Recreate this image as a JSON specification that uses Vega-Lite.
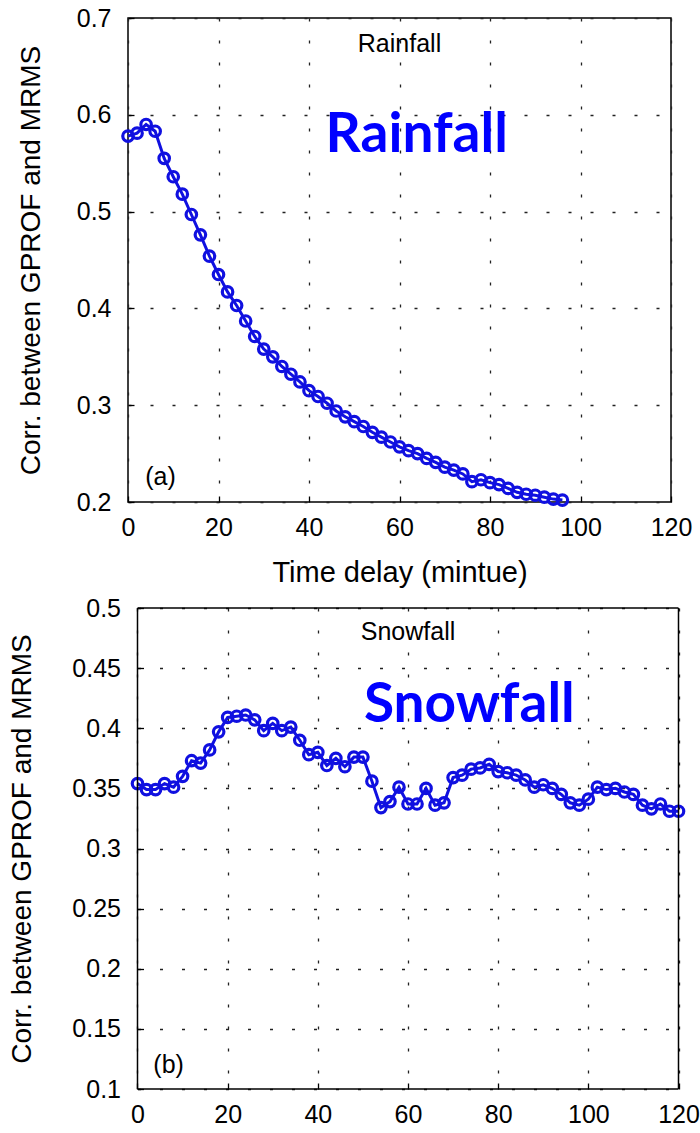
{
  "$schema": "https://vega.github.io/schema/vega-lite/v6.json",
  "background": "white",
  "padding": {"left": 8, "top": 5, "right": 5, "bottom": 5},
  "spacing": 8,
  "config": {
    "font": "Liberation Sans",
    "view": {"stroke": "black", "strokeWidth": 1.5},
    "axis": {
      "grid": true, "gridColor": "#222222", "gridDash": [3, 19], "gridWidth": 1.3,
      "domain": false, "ticks": true, "tickSize": -6, "tickColor": "black", "tickWidth": 1.3, "labelFlush": false,
      "labelFont": "Liberation Sans", "labelFontSize": 25, "labelColor": "black",
      "titleFont": "Liberation Sans", "titleFontWeight": "normal", "titleColor": "black"
    }
  },
  "datasets": {
    "rain": [
      {"minute": 0, "corr": 0.578}, {"minute": 2, "corr": 0.581}, {"minute": 4, "corr": 0.590}, {"minute": 6, "corr": 0.583},
      {"minute": 8, "corr": 0.555}, {"minute": 10, "corr": 0.536}, {"minute": 12, "corr": 0.518}, {"minute": 14, "corr": 0.497},
      {"minute": 16, "corr": 0.476}, {"minute": 18, "corr": 0.454}, {"minute": 20, "corr": 0.435}, {"minute": 22, "corr": 0.417},
      {"minute": 24, "corr": 0.403}, {"minute": 26, "corr": 0.387}, {"minute": 28, "corr": 0.371}, {"minute": 30, "corr": 0.358},
      {"minute": 32, "corr": 0.350}, {"minute": 34, "corr": 0.340}, {"minute": 36, "corr": 0.332}, {"minute": 38, "corr": 0.324},
      {"minute": 40, "corr": 0.315}, {"minute": 42, "corr": 0.309}, {"minute": 44, "corr": 0.302}, {"minute": 46, "corr": 0.294},
      {"minute": 48, "corr": 0.288}, {"minute": 50, "corr": 0.283}, {"minute": 52, "corr": 0.278}, {"minute": 54, "corr": 0.272},
      {"minute": 56, "corr": 0.267}, {"minute": 58, "corr": 0.262}, {"minute": 60, "corr": 0.257}, {"minute": 62, "corr": 0.253},
      {"minute": 64, "corr": 0.250}, {"minute": 66, "corr": 0.245}, {"minute": 68, "corr": 0.241}, {"minute": 70, "corr": 0.236},
      {"minute": 72, "corr": 0.233}, {"minute": 74, "corr": 0.229}, {"minute": 76, "corr": 0.221}, {"minute": 78, "corr": 0.223},
      {"minute": 80, "corr": 0.220}, {"minute": 82, "corr": 0.218}, {"minute": 84, "corr": 0.214}, {"minute": 86, "corr": 0.210},
      {"minute": 88, "corr": 0.208}, {"minute": 90, "corr": 0.207}, {"minute": 92, "corr": 0.205}, {"minute": 94, "corr": 0.203},
      {"minute": 96, "corr": 0.202}
    ],
    "snow": [
      {"minute": 0, "corr": 0.354}, {"minute": 2, "corr": 0.349}, {"minute": 4, "corr": 0.349}, {"minute": 6, "corr": 0.354},
      {"minute": 8, "corr": 0.351}, {"minute": 10, "corr": 0.360}, {"minute": 12, "corr": 0.373}, {"minute": 14, "corr": 0.371},
      {"minute": 16, "corr": 0.382}, {"minute": 18, "corr": 0.397}, {"minute": 20, "corr": 0.409}, {"minute": 22, "corr": 0.410},
      {"minute": 24, "corr": 0.411}, {"minute": 26, "corr": 0.407}, {"minute": 28, "corr": 0.398}, {"minute": 30, "corr": 0.404},
      {"minute": 32, "corr": 0.398}, {"minute": 34, "corr": 0.401}, {"minute": 36, "corr": 0.390}, {"minute": 38, "corr": 0.378},
      {"minute": 40, "corr": 0.380}, {"minute": 42, "corr": 0.369}, {"minute": 44, "corr": 0.375}, {"minute": 46, "corr": 0.368},
      {"minute": 48, "corr": 0.376}, {"minute": 50, "corr": 0.376}, {"minute": 52, "corr": 0.356}, {"minute": 54, "corr": 0.334},
      {"minute": 56, "corr": 0.339}, {"minute": 58, "corr": 0.351}, {"minute": 60, "corr": 0.337}, {"minute": 62, "corr": 0.337},
      {"minute": 64, "corr": 0.350}, {"minute": 66, "corr": 0.336}, {"minute": 68, "corr": 0.338}, {"minute": 70, "corr": 0.359},
      {"minute": 72, "corr": 0.361}, {"minute": 74, "corr": 0.366}, {"minute": 76, "corr": 0.367}, {"minute": 78, "corr": 0.370},
      {"minute": 80, "corr": 0.364}, {"minute": 82, "corr": 0.363}, {"minute": 84, "corr": 0.361}, {"minute": 86, "corr": 0.357},
      {"minute": 88, "corr": 0.351}, {"minute": 90, "corr": 0.353}, {"minute": 92, "corr": 0.350}, {"minute": 94, "corr": 0.345},
      {"minute": 96, "corr": 0.338}, {"minute": 98, "corr": 0.336}, {"minute": 100, "corr": 0.341}, {"minute": 102, "corr": 0.351},
      {"minute": 104, "corr": 0.349}, {"minute": 106, "corr": 0.350}, {"minute": 108, "corr": 0.347}, {"minute": 110, "corr": 0.345},
      {"minute": 112, "corr": 0.336}, {"minute": 114, "corr": 0.333}, {"minute": 116, "corr": 0.337}, {"minute": 118, "corr": 0.331},
      {"minute": 120, "corr": 0.331}
    ]
  },
  "vconcat": [
    {
      "width": 543,
      "height": 484,
      "layer": [
        {
          "data": {"name": "rain"},
          "mark": {"type": "line", "color": "#1010e0", "strokeWidth": 3},
          "encoding": {
            "x": {"field": "minute", "type": "quantitative", "scale": {"domain": [0, 120], "nice": false},
              "axis": {"values": [0, 20, 40, 60, 80, 100, 120], "title": "Time delay (mintue)", "titleFontSize": 29, "labelPadding": 19, "titlePadding": 18}},
            "y": {"field": "corr", "type": "quantitative", "scale": {"domain": [0.2, 0.7], "nice": false, "zero": false},
              "axis": {"values": [0.2, 0.3, 0.4, 0.5, 0.6, 0.7], "format": ".1f", "title": "Corr. between GPROF and MRMS", "titleFontSize": 28, "labelPadding": 23, "titlePadding": 31}}
          }
        },
        {
          "data": {"name": "rain"},
          "mark": {"type": "point", "filled": false, "color": "#1010e0", "strokeWidth": 3.2, "size": 110, "opacity": 1},
          "encoding": {
            "x": {"field": "minute", "type": "quantitative"},
            "y": {"field": "corr", "type": "quantitative"}
          }
        },
        {
          "data": {"values": [{}]},
          "mark": {"type": "text", "text": "Rainfall", "font": "Liberation Sans", "fontSize": 25, "color": "black", "align": "center", "baseline": "alphabetic"},
          "encoding": {"x": {"datum": 60}, "y": {"datum": 0.665}}
        },
        {
          "data": {"values": [{}]},
          "mark": {"type": "text", "text": "Rainfall", "font": "Lato", "fontWeight": "bold", "fontSize": 55, "color": "#0000ff", "align": "center", "baseline": "alphabetic"},
          "encoding": {"x": {"datum": 63.8}, "y": {"datum": 0.5616}}
        },
        {
          "data": {"values": [{}]},
          "mark": {"type": "text", "text": "(a)", "font": "Liberation Sans", "fontSize": 25, "color": "black", "align": "center", "baseline": "alphabetic"},
          "encoding": {"x": {"datum": 7.2}, "y": {"datum": 0.218}}
        }
      ]
    },
    {
      "width": 550.5,
      "height": 481,
      "view": {"stroke": null},
      "layer": [
        {
          "data": {"name": "snow"},
          "mark": {"type": "line", "color": "#1010e0", "strokeWidth": 3},
          "encoding": {
            "x": {"field": "minute", "type": "quantitative", "scale": {"domain": [-2.107, 120], "nice": false, "zero": false},
              "axis": {"values": [0, 20, 40, 60, 80, 100, 120], "title": null, "labelPadding": 19}},
            "y": {"field": "corr", "type": "quantitative", "scale": {"domain": [0.1, 0.5], "nice": false, "zero": false},
              "axis": {"values": [0.1, 0.15, 0.2, 0.25, 0.3, 0.35, 0.4, 0.45, 0.5], "format": ".2~f", "title": "Corr. between GPROF and MRMS", "titleFontSize": 28, "offset": -9.5, "labelPadding": 23, "titlePadding": 35, "gridDashOffset": 12.5}}
          }
        },
        {
          "data": {"name": "snow"},
          "mark": {"type": "point", "filled": false, "color": "#1010e0", "strokeWidth": 3.2, "size": 110, "opacity": 1},
          "encoding": {
            "x": {"field": "minute", "type": "quantitative"},
            "y": {"field": "corr", "type": "quantitative"}
          }
        },
        {
          "data": {"values": [{}]},
          "mark": {"type": "rule", "color": "black", "strokeWidth": 1.5},
          "encoding": {"x": {"datum": 0}}
        },
        {
          "data": {"values": [{}]},
          "mark": {"type": "rule", "color": "black", "strokeWidth": 1.5},
          "encoding": {"x": {"datum": 120}}
        },
        {
          "data": {"values": [{}]},
          "mark": {"type": "rule", "color": "black", "strokeWidth": 1.5},
          "encoding": {"x": {"datum": 0}, "x2": {"datum": 120}, "y": {"datum": 0.1}}
        },
        {
          "data": {"values": [{}]},
          "mark": {"type": "rule", "color": "black", "strokeWidth": 1.5},
          "encoding": {"x": {"datum": 0}, "x2": {"datum": 120}, "y": {"datum": 0.5}}
        },
        {
          "data": {"values": [{}]},
          "mark": {"type": "text", "text": "Snowfall", "font": "Liberation Sans", "fontSize": 25, "color": "black", "align": "center", "baseline": "alphabetic"},
          "encoding": {"x": {"datum": 60}, "y": {"datum": 0.473}}
        },
        {
          "data": {"values": [{}]},
          "mark": {"type": "text", "text": "Snowfall", "font": "Lato", "fontWeight": "bold", "fontSize": 55, "color": "#0000ff", "align": "center", "baseline": "alphabetic"},
          "encoding": {"x": {"datum": 73.6}, "y": {"datum": 0.405}}
        },
        {
          "data": {"values": [{}]},
          "mark": {"type": "text", "text": "(b)", "font": "Liberation Sans", "fontSize": 25, "color": "black", "align": "center", "baseline": "alphabetic"},
          "encoding": {"x": {"datum": 6.9}, "y": {"datum": 0.113}}
        }
      ]
    }
  ]
}
